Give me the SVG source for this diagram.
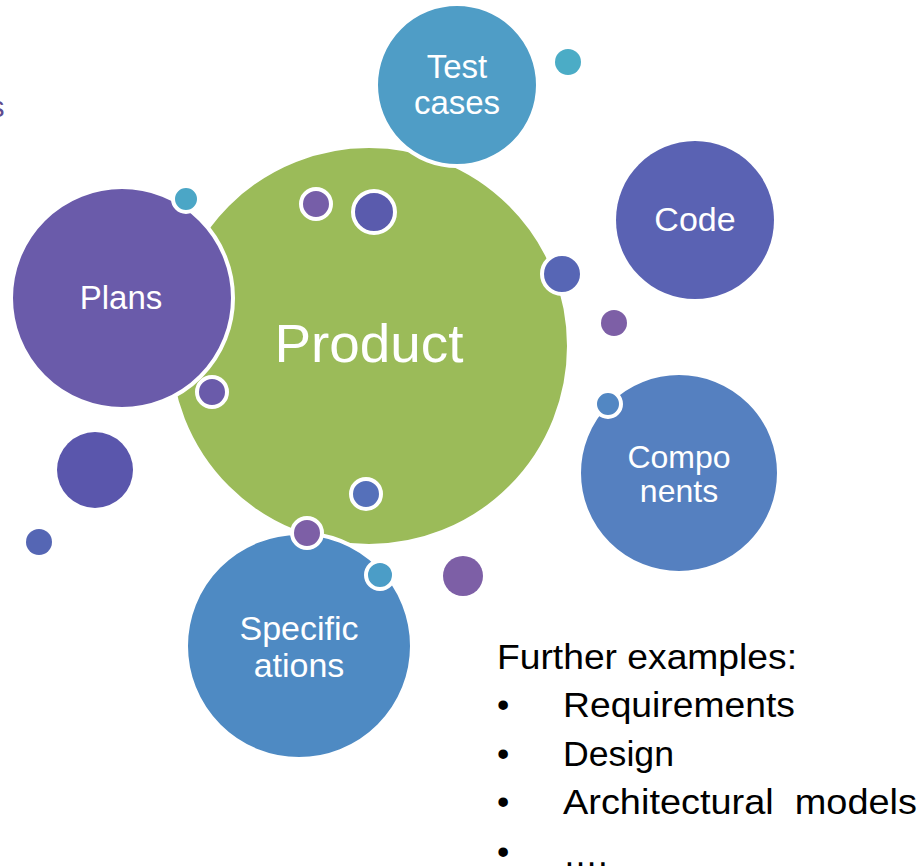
<svg xmlns="http://www.w3.org/2000/svg" width="923" height="866" viewBox="0 0 923 866">
<style>
.lbl{font-family:"Liberation Sans",Arial,sans-serif;fill:#fff;text-anchor:middle}
.big{stroke:#fff;stroke-width:4}
.dot{stroke:#fff;stroke-width:4}
.txt{font-family:"Liberation Sans",Arial,sans-serif;fill:#000;font-size:35px}
</style>
<rect width="923" height="866" fill="#fff"/>
<text x="-10" y="117" style="font-family:'Liberation Sans',Arial,sans-serif;font-size:29px;fill:#5E4C8F">s</text>
<g id="dots-bg">
<circle cx="568" cy="62" r="13" fill="#4BACC6"/>
<circle cx="614" cy="323" r="13" fill="#7D5FA6"/>
<circle cx="95" cy="470" r="38" fill="#5A56AC"/>
<circle cx="39" cy="542" r="13" fill="#5566B4"/>
<circle cx="463" cy="576" r="20" fill="#7D5FA6"/>
</g>
<g id="product">
<circle cx="369" cy="346" r="200" fill="#9BBB59" class="big"/>
<text class="lbl" x="369" y="362" font-size="54" textLength="189" lengthAdjust="spacingAndGlyphs">Product</text>
</g>
<g id="plans">
<circle cx="122" cy="298" r="111" fill="#6A5BAA" class="big"/>
<text class="lbl" x="121" y="309" font-size="33">Plans</text>
</g>
<g id="testcases">
<circle cx="457" cy="85" r="81" fill="#4F9DC6" class="big"/>
<text class="lbl" x="457" y="78" font-size="33">Test</text>
<text class="lbl" x="457" y="114" font-size="33">cases</text>
</g>
<g id="code">
<circle cx="695" cy="220" r="79" fill="#5A62B3"/>
<text class="lbl" x="695" y="231" font-size="34">Code</text>
</g>
<g id="components">
<circle cx="679" cy="473" r="100" fill="#5580C0" class="big"/>
<text class="lbl" x="679" y="468" font-size="32">Compo</text>
<text class="lbl" x="679" y="502" font-size="32">nents</text>
</g>
<g id="specifications">
<circle cx="299" cy="646" r="113" fill="#4E8AC3" class="big"/>
<text class="lbl" x="299" y="640" font-size="34">Specific</text>
<text class="lbl" x="299" y="677" font-size="34">ations</text>
</g>
<g id="dots-fg">
<circle cx="186" cy="199" r="13" fill="#4BA6C6" class="dot"/>
<circle cx="316" cy="204" r="15" fill="#765EA8" class="dot"/>
<circle cx="374" cy="212" r="21" fill="#5A5BAD" class="dot"/>
<circle cx="562" cy="274" r="20" fill="#5766B5" class="dot"/>
<circle cx="212" cy="392" r="15" fill="#6A5BAA" class="dot"/>
<circle cx="608" cy="404" r="13" fill="#5287C3" class="dot"/>
<circle cx="366" cy="494" r="15" fill="#5570BA" class="dot"/>
<circle cx="307" cy="533" r="15" fill="#7D5FA6" class="dot"/>
<circle cx="380" cy="575" r="14" fill="#4B9DC7" class="dot"/>
</g>
<g id="further">
<text class="txt" x="497" y="669" textLength="300" lengthAdjust="spacingAndGlyphs">Further examples:</text>
<text class="txt" x="497" y="717">•</text><text class="txt" x="563" y="717" textLength="232" lengthAdjust="spacingAndGlyphs">Requirements</text>
<text class="txt" x="497" y="766">•</text><text class="txt" x="563" y="766" textLength="111" lengthAdjust="spacingAndGlyphs">Design</text>
<text class="txt" x="497" y="814">•</text><text class="txt" x="563" y="814" xml:space="preserve" textLength="354" lengthAdjust="spacingAndGlyphs">Architectural  models</text>
<text class="txt" x="497" y="864">•</text><text class="txt" x="563" y="866">….</text>
</g>
</svg>
